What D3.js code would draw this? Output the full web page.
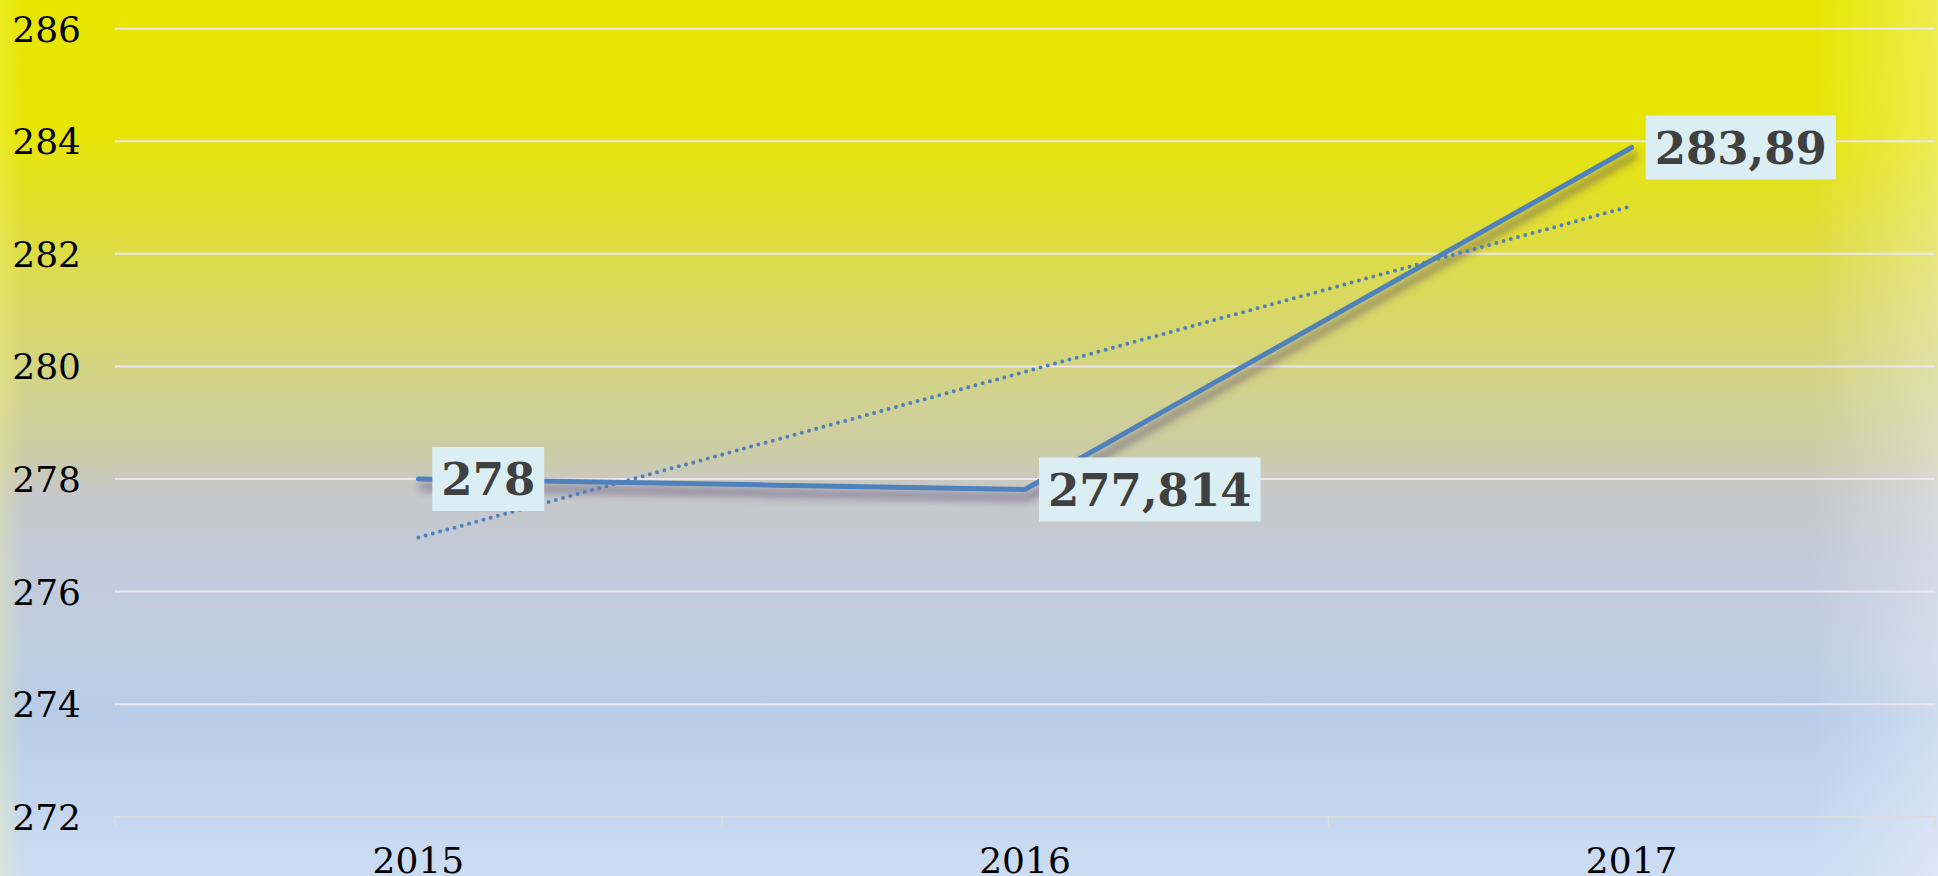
<!DOCTYPE html>
<html>
<head>
<meta charset="utf-8">
<script src="https://cdn.jsdelivr.net/npm/d3@7"></script>
<style>
  html, body { margin: 0; padding: 0; overflow: hidden; }
  svg { display: block; }
</style>
</head>
<body>
<div id="chart"></div>
<script>
// data
var years = ["2015", "2016", "2017"];
var values = [278, 277.814, 283.89];
var valueLabels = ["278", "277,814", "283,89"];
// linear trendline, end points
var trendYears = ["2015", "2017"];
var trendValues = [276.96, 282.85];
var yTicks = [272, 274, 276, 278, 280, 282, 284, 286];

var width = 1938, height = 876;
var plotLeft = 115, plotRight = 1935, plotTop = 28.7, plotBottom = 816.7;

var svg = d3.select("#chart").append("svg")
    .attr("width", width)
    .attr("height", height);

var defs = svg.append("defs");

// background, yellow on top fading to light blue
var bg = defs.append("linearGradient")
    .attr("id", "bg").attr("x1", 0).attr("y1", 0).attr("x2", 0).attr("y2", 1);
[
  [0, "#e6e600"], [0.15, "#e6e505"], [0.24, "#e1df2e"], [0.35, "#d9d865"],
  [0.46, "#d0d192"], [0.52, "#cccca8"], [0.56, "#c7c8c8"], [0.63, "#c2cad8"],
  [0.75, "#bfcfe2"], [0.82, "#b9cce8"], [0.92, "#c4d6ef"], [1, "#ccdcf2"]
].forEach(function (s) {
  bg.append("stop").attr("offset", s[0]).attr("stop-color", s[1]);
});

var fadeR = defs.append("linearGradient")
    .attr("id", "fadeR").attr("x1", 0).attr("y1", 0).attr("x2", 1).attr("y2", 0);
fadeR.append("stop").attr("offset", 0).attr("stop-color", "#ffffff").attr("stop-opacity", 0);
fadeR.append("stop").attr("offset", 1).attr("stop-color", "#ffffff").attr("stop-opacity", 0.3);

var fadeL = defs.append("linearGradient")
    .attr("id", "fadeL").attr("x1", 0).attr("y1", 0).attr("x2", 1).attr("y2", 0);
fadeL.append("stop").attr("offset", 0).attr("stop-color", "#ffff88").attr("stop-opacity", 0.25);
fadeL.append("stop").attr("offset", 1).attr("stop-color", "#ffff88").attr("stop-opacity", 0);

var shadow = defs.append("filter").attr("id", "shadow")
    .attr("x", "-10%").attr("y", "-10%").attr("width", "120%").attr("height", "130%");
shadow.append("feGaussianBlur").attr("in", "SourceAlpha").attr("stdDeviation", 4).attr("result", "b");
shadow.append("feOffset").attr("in", "b").attr("dx", 3).attr("dy", 8).attr("result", "o");
shadow.append("feFlood").attr("flood-color", "#4a3668").attr("flood-opacity", 0.7);
shadow.append("feComposite").attr("in2", "o").attr("operator", "in").attr("result", "s");
var merge = shadow.append("feMerge");
merge.append("feMergeNode").attr("in", "s");
merge.append("feMergeNode").attr("in", "SourceGraphic");

svg.append("rect").attr("width", width).attr("height", height).attr("fill", "url(#bg)");
svg.append("rect").attr("x", 1810).attr("width", 128).attr("height", height).attr("fill", "url(#fadeR)");
svg.append("rect").attr("x", 0).attr("width", 25).attr("height", height).attr("fill", "url(#fadeL)");

var x = d3.scaleBand().domain(years).range([plotLeft, plotRight]).padding(0);
var y = d3.scaleLinear().domain([272, 286]).range([plotBottom, plotTop]);
var cx = function (d) { return x(d) + x.bandwidth() / 2; };

// gridlines
svg.append("g").selectAll("line")
    .data(yTicks.slice(1))
    .enter().append("line")
    .attr("x1", plotLeft).attr("x2", plotRight)
    .attr("y1", function (d) { return y(d); })
    .attr("y2", function (d) { return y(d); })
    .attr("stroke", "#ebe6ee")
    .attr("stroke-width", 2);

// y axis labels
svg.append("g").selectAll("text")
    .data(yTicks)
    .enter().append("text")
    .attr("x", 81)
    .attr("y", function (d) { return y(d) + 13; })
    .attr("text-anchor", "end")
    .attr("font-family", "DejaVu Serif")
    .attr("font-size", 36)
    .attr("fill", "#000")
    .text(function (d) { return d; });

// x axis
var xAxis = svg.append("g").attr("transform", "translate(0," + plotBottom + ")");
xAxis.append("line").attr("x1", plotLeft).attr("x2", plotRight)
    .attr("stroke", "#dcdcdc").attr("stroke-width", 1.5);
xAxis.selectAll("line.tick")
    .data(years.concat(["end"]))
    .enter().append("line")
    .attr("class", "tick")
    .attr("x1", function (d, i) { return i < years.length ? x(d) : plotRight; })
    .attr("x2", function (d, i) { return i < years.length ? x(d) : plotRight; })
    .attr("y1", 0).attr("y2", 10)
    .attr("stroke", "#dcdcdc").attr("stroke-width", 1.5);
xAxis.selectAll("text")
    .data(years)
    .enter().append("text")
    .attr("x", cx)
    .attr("y", 56)
    .attr("text-anchor", "middle")
    .attr("font-family", "DejaVu Serif")
    .attr("font-size", 36)
    .attr("fill", "#000")
    .text(function (d) { return d; });

// data line with shadow
var line = d3.line()
    .x(function (d, i) { return cx(years[i]); })
    .y(function (d) { return y(d); });

svg.append("path")
    .datum(values)
    .attr("d", line)
    .attr("fill", "none")
    .attr("stroke", "#4f81bd")
    .attr("stroke-width", 5)
    .attr("stroke-linecap", "round")
    .attr("filter", "url(#shadow)");

// dotted linear trendline
var trendLine = d3.line()
    .x(function (d, i) { return cx(trendYears[i]); })
    .y(function (d) { return y(d); });

svg.append("path")
    .datum(trendValues)
    .attr("d", trendLine)
    .attr("fill", "none")
    .attr("stroke", "#4f81bd")
    .attr("stroke-width", 4)
    .attr("stroke-linecap", "round")
    .attr("stroke-dasharray", "0 7.5");

// value labels in boxes
var labels = svg.append("g").selectAll("g")
    .data(values)
    .enter().append("g")
    .attr("transform", function (d, i) {
      return "translate(" + (cx(years[i]) + 14) + "," + y(d) + ")";
    });

labels.each(function (d, i) {
  var g = d3.select(this);
  var rect = g.append("rect").attr("fill", "#daeef3");
  var t = g.append("text")
      .attr("x", 9)
      .attr("y", 16.5)
      .attr("font-family", "DejaVu Serif")
      .attr("font-weight", "bold")
      .attr("font-size", 45)
      .attr("fill", "#404040")
      .text(valueLabels[i]);
  var w = t.node().getComputedTextLength();
  rect.attr("x", 0).attr("y", -32).attr("width", w + 18).attr("height", 64);
});
</script>
</body>
</html>
